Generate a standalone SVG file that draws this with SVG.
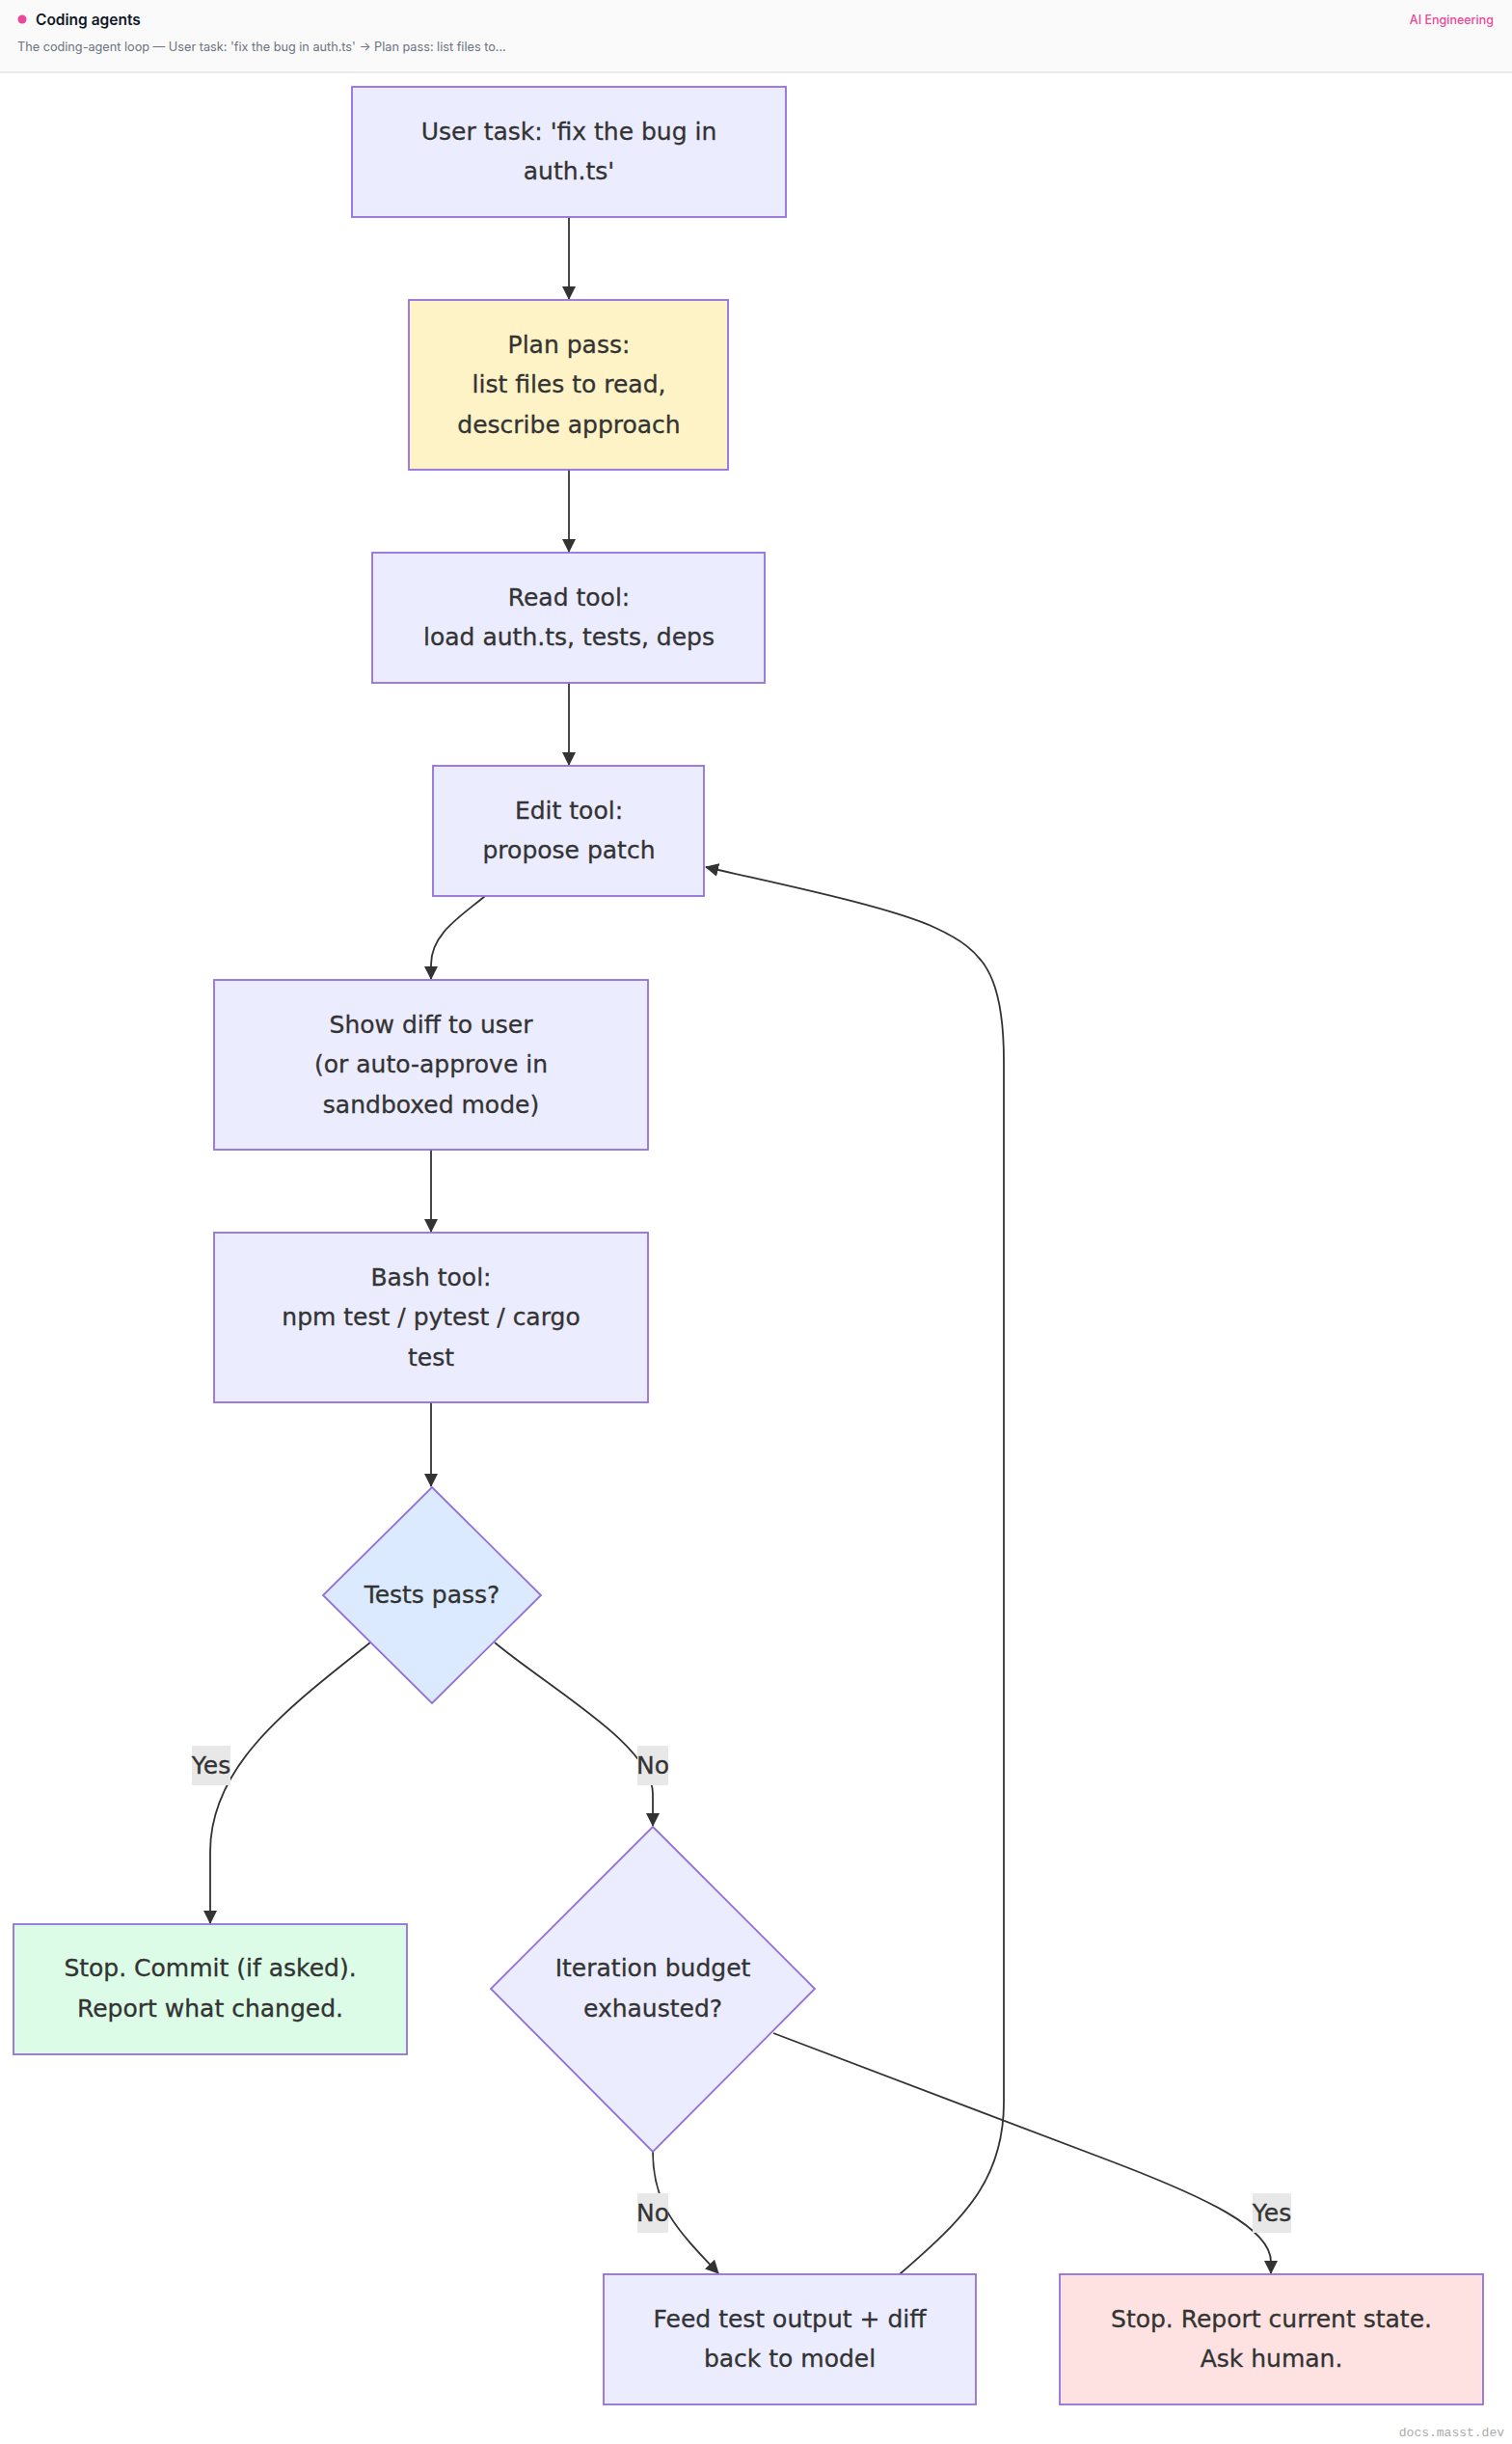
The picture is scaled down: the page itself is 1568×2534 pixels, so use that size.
<svg xmlns="http://www.w3.org/2000/svg" width="1568" height="2534" viewBox="0 0 1568 2534">
<defs>
<marker id="arrow" markerUnits="userSpaceOnUse" markerWidth="14" markerHeight="14" refX="13" refY="7" orient="auto">
<path d="M0,0 L14,7 L0,14 z" fill="#333333"/>
</marker>
<style>
.node rect, .node polygon { stroke: #9370DB; stroke-width: 1.8; }
.def { fill: #ECECFF; }
.plan { fill: #FEF3C7; }
.ok { fill: #DCFCE7; }
.bad { fill: #FEE2E2; }
.q { fill: #DBEAFE; }
.lbl { font-family: "DejaVu Sans", sans-serif; font-size: 25px; fill: #333333; stroke: #333333; stroke-width: 0.3; text-anchor: middle; }
.edge { fill: none; stroke: #333333; stroke-width: 1.8; marker-end: url(#arrow); }
.elbg { fill: #E8E8E8; }
</style>
</defs>
<rect x="0" y="0" width="1568" height="2534" fill="#ffffff"/>
<g id="header">
<rect x="0" y="0" width="1568" height="75" fill="#FAFAFA"/>
<line x1="0" y1="75" x2="1568" y2="75" stroke="#E5E5E5" stroke-width="1.5"/>
<circle cx="23" cy="20" r="4.5" fill="#EC4899"/>
<text x="37" y="25.5" font-family="Inter, Liberation Sans, sans-serif" font-weight="600" font-size="15.5" fill="#111827">Coding agents</text>
<text x="18" y="53" font-family="Inter, Liberation Sans, sans-serif" font-size="12.7" fill="#6B7280">The coding-agent loop — User task: 'fix the bug in auth.ts' → Plan pass: list files to...</text>
<text x="1549" y="25" font-family="Inter, Liberation Sans, sans-serif" font-weight="500" font-size="12.5" fill="#EC4899" text-anchor="end">AI Engineering</text>
</g>
<g id="connectors">
<path class="edge" d="M590,225 L590,310"/>
<path class="edge" d="M590,487 L590,572"/>
<path class="edge" d="M590,708 L590,793"/>
<path class="edge" d="M503,929 C478,950 447,968 447,1000 L447,1015"/>
<path class="edge" d="M447,1192 L447,1277"/>
<path class="edge" d="M447,1454 L447,1541"/>
<path class="edge" d="M384,1703 C300,1770 218,1830 218,1920 L218,1994"/>
<path class="edge" d="M513,1703 C572,1752 677,1810 677,1860 L677,1893"/>
<path class="edge" d="M677,2231 C677,2285 700,2310 745,2357"/>
<path class="edge" d="M802,2108 L1150,2240 C1250,2278 1318,2310 1318,2345 L1318,2357"/>
<path class="edge" d="M933,2358 C1000,2300 1041,2260 1041,2180 L1041,1100 C1041,1010 1020,985 970,962 C920,939 800,915 732,899"/>
<g id="edge-labels">
<rect class="elbg" x="199" y="1810" width="40" height="41"/>
<text class="lbl" x="219" y="1839">Yes</text>
<rect class="elbg" x="661" y="1810" width="32" height="41"/>
<text class="lbl" x="677" y="1839">No</text>
<rect class="elbg" x="661" y="2274" width="32" height="41"/>
<text class="lbl" x="677" y="2303">No</text>
<rect class="elbg" x="1299" y="2274" width="40" height="41"/>
<text class="lbl" x="1319" y="2303">Yes</text>
</g>
</g>
<g id="n-user" class="node">
<rect class="def" x="365" y="90" width="450" height="135"/>
<text class="lbl" x="590" y="145">User task: 'fix the bug in</text>
<text class="lbl" x="590" y="186">auth.ts'</text>
</g>
<g id="n-plan" class="node">
<rect class="plan" x="424" y="311" width="331" height="176"/>
<text class="lbl" x="590" y="365.5">Plan pass:</text>
<text class="lbl" x="590" y="407">list files to read,</text>
<text class="lbl" x="590" y="448.5">describe approach</text>
</g>
<g id="n-read" class="node">
<rect class="def" x="386" y="573" width="407" height="135"/>
<text class="lbl" x="590" y="628">Read tool:</text>
<text class="lbl" x="590" y="669">load auth.ts, tests, deps</text>
</g>
<g id="n-edit" class="node">
<rect class="def" x="449" y="794" width="281" height="135"/>
<text class="lbl" x="590" y="849">Edit tool:</text>
<text class="lbl" x="590" y="890">propose patch</text>
</g>
<g id="n-show" class="node">
<rect class="def" x="222" y="1016" width="450" height="176"/>
<text class="lbl" x="447" y="1070.5">Show diff to user</text>
<text class="lbl" x="447" y="1112">(or auto-approve in</text>
<text class="lbl" x="447" y="1153.5">sandboxed mode)</text>
</g>
<g id="n-bash" class="node">
<rect class="def" x="222" y="1278" width="450" height="176"/>
<text class="lbl" x="447" y="1332.5">Bash tool:</text>
<text class="lbl" x="447" y="1374">npm test / pytest / cargo</text>
<text class="lbl" x="447" y="1415.5">test</text>
</g>
<g id="n-tests" class="node">
<polygon class="q" points="448,1542 561,1654 448,1766 335,1654"/>
<text class="lbl" x="448" y="1662">Tests pass?</text>
</g>
<g id="n-commit" class="node">
<rect class="ok" x="14" y="1995" width="408" height="135"/>
<text class="lbl" x="218" y="2049">Stop. Commit (if asked).</text>
<text class="lbl" x="218" y="2091">Report what changed.</text>
</g>
<g id="n-budget" class="node">
<polygon class="def" points="677,1894 845,2062 677,2231 509,2062"/>
<text class="lbl" x="677" y="2049">Iteration budget</text>
<text class="lbl" x="677" y="2090.5">exhausted?</text>
</g>
<g id="n-feed" class="node">
<rect class="def" x="626" y="2358" width="386" height="135"/>
<text class="lbl" x="819" y="2413">Feed test output + diff</text>
<text class="lbl" x="819" y="2454">back to model</text>
</g>
<g id="n-report" class="node">
<rect class="bad" x="1099" y="2358" width="439" height="135"/>
<text class="lbl" x="1318.5" y="2413">Stop. Report current state.</text>
<text class="lbl" x="1318.5" y="2454">Ask human.</text>
</g>
<text x="1560" y="2526" font-family="Liberation Mono, monospace" font-size="13" fill="#AAAAAA" text-anchor="end">docs.masst.dev</text>
</svg>
